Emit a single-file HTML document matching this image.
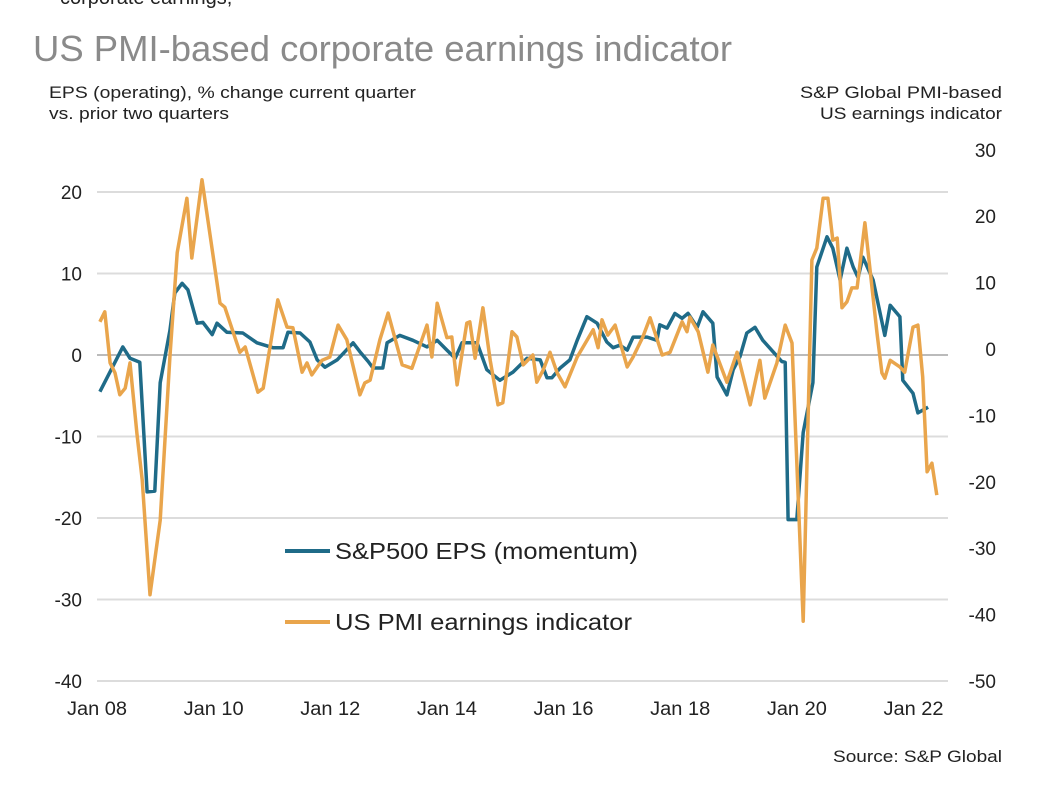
<!DOCTYPE html>
<html><head><meta charset="utf-8"><style>
body{margin:0;background:#fff;width:1042px;height:784px;overflow:hidden;font-family:"Liberation Sans",sans-serif}
svg text{font-family:"Liberation Sans",sans-serif}
</style></head><body>
<svg id="chart" width="1042" height="784" xmlns="http://www.w3.org/2000/svg">
<text x="60" y="4" font-size="20" fill="#222">corporate earnings,</text>
<text x="33" y="61" font-size="36" fill="#8a8a8a" textLength="699" lengthAdjust="spacingAndGlyphs">US PMI-based corporate earnings indicator</text>
<text x="49" y="98" font-size="17" fill="#222" textLength="367" lengthAdjust="spacingAndGlyphs">EPS (operating), % change current quarter</text>
<text x="49" y="119" font-size="17" fill="#222" textLength="180" lengthAdjust="spacingAndGlyphs">vs. prior two quarters</text>
<text x="1002" y="98" font-size="17" fill="#222" text-anchor="end" textLength="202" lengthAdjust="spacingAndGlyphs">S&amp;P Global PMI-based</text>
<text x="1002" y="119" font-size="17" fill="#222" text-anchor="end" textLength="182" lengthAdjust="spacingAndGlyphs">US earnings indicator</text>
<text x="1002" y="762" font-size="17" fill="#222" text-anchor="end" textLength="169" lengthAdjust="spacingAndGlyphs">Source: S&amp;P Global</text>
<g id="grid"></g><g id="axes"></g><g id="lines"></g>
<g>
<line x1="285" y1="551" x2="330" y2="551" stroke="#1f6b88" stroke-width="4"/>
<text x="335" y="559" font-size="23" fill="#222" textLength="303" lengthAdjust="spacingAndGlyphs">S&amp;P500 EPS (momentum)</text>
<line x1="285" y1="622" x2="330" y2="622" stroke="#e9a54c" stroke-width="4"/>
<text x="335" y="630" font-size="23" fill="#222" textLength="297" lengthAdjust="spacingAndGlyphs">US PMI earnings indicator</text>
</g>
</svg>
<script>
// month offsets from Jan 2008
const epsMonths=[0.6,5.3,6.8,8.8,10.3,11.9,13,15,16,17.5,18.7,20.6,21.8,23.7,24.7,26.7,30,32.9,36.2,38.3,39.3,41.8,43.8,45.3,46.9,49.4,51,52.7,54.1,55.8,56.8,58.8,59.7,62.3,65,67.9,70,72,73.7,75.1,78.2,80.2,82.9,85.6,88.5,91.2,92.6,93.6,95.3,97.3,98.8,100.8,102.9,104.9,106.2,107.6,109.1,110.3,113.2,115.2,115.8,117.3,118.9,120.4,121.6,123.5,124.7,126.7,127.6,129.6,130.9,132.3,133.7,135.4,137,139.1,140.9,141.6,142.2,144,145.3,147.3,148.1,150.2,151.4,152.9,154.3,155.6,156.6,157.6,159.7,162.1,163.2,165.2,165.8,167.9,168.9,171];
const epsValues=[-4.5,1,-0.4,-0.9,-16.8,-16.7,-3.4,3,7.6,8.8,8,3.9,4,2.5,3.9,2.8,2.7,1.5,0.9,0.9,2.8,2.7,1.6,-0.6,-1.5,-0.6,0.4,1.5,0.4,-0.8,-1.6,-1.6,1.5,2.4,1.8,1,1.8,0.6,-0.4,1.5,1.5,-1.8,-3.1,-2.1,-0.4,-0.6,-2.8,-2.8,-1.6,-0.6,1.8,4.7,3.9,1.6,0.9,1.2,0.6,2.2,2.2,1.8,3.7,3.3,5.1,4.5,5.1,3.4,5.3,3.9,-2.7,-4.9,-1.8,-0.2,2.7,3.4,1.8,0.4,-0.8,-0.9,-20.2,-20.2,-9.5,-3.4,10.8,14.5,13.1,9.2,13.1,10.8,9.5,12,9.2,2.4,6.1,4.7,-3.1,-4.7,-7.1,-6.4];
const pmiMonths=[0.6,1.6,2.7,3.7,4.7,5.8,6.8,8.2,9.3,10.9,13,15,16.5,18.5,19.5,21.6,25.3,26.3,29.4,30.5,33.1,34.2,37.2,39.1,40.3,42.2,43.2,44.2,46.3,47.9,49.6,51.4,54.1,55.1,56.2,58.2,59.9,62.8,64.8,67.9,68.9,70,72,73,74.1,76.1,76.7,77.8,79.4,80.9,82.5,83.5,85.4,86.4,87.7,89.7,90.5,91.8,93.2,94.7,96.3,98.8,102.1,103.1,103.9,105.1,106.6,109.1,110.3,112.3,113.8,116.3,117.9,120.4,121.4,122,123.7,125.7,126.7,129.6,131.7,134.4,136.4,137.4,139.9,141.6,143,145.3,147.1,148.1,149.4,150.4,151.4,152.3,153.3,154.3,155.3,156.4,158,160.5,161.5,162.1,163.2,165.2,166.2,167.9,168.9,169.9,170.8,171.8,172.8];
const pmiValues=[4.1,5.6,-2.1,-3.6,-6.9,-5.9,-2.1,-12.7,-19.7,-37,-25.8,-1.2,14.5,22.7,13.7,25.5,6.9,6.3,-0.5,0.3,-6.5,-5.9,7.4,3.3,3.2,-3.5,-2.1,-3.9,-1.7,-1.2,3.6,1.4,-6.9,-5.1,-4.7,1.4,5.4,-2.4,-2.9,3.6,-1.2,6.9,1.7,1.8,-5.4,3.9,4.1,-1.4,6.2,-1.7,-8.4,-8.1,2.6,1.8,-2.4,-0.9,-5,-3.2,-0.5,-3.6,-5.7,-1.2,2.9,0.2,4.4,2.1,3.6,-2.7,-1.2,1.8,4.7,-0.9,-0.5,4.1,2.6,4.8,2.6,-3.5,0.6,-5,-0.5,-8.4,-1.7,-7.4,-2.1,3.6,0.9,-41,13.4,15.2,22.7,22.7,16.4,16.7,6.2,7.1,9.2,9.2,19,2.4,-3.6,-4.4,-1.7,-2.7,-3.5,3.3,3.6,-4.2,-18.5,-17.2,-22];
const leftTicks=[20,10,0,-10,-20,-30,-40];
const rightTicks=[30,20,10,0,-10,-20,-30,-40,-50];
const xTickLabels=["Jan 08","Jan 10","Jan 12","Jan 14","Jan 16","Jan 18","Jan 20","Jan 22"];
const xTickMonths=[0,24,48,72,96,120,144,168];

const NS="http://www.w3.org/2000/svg";
const xS=m=>97+m*4.86;
const yL=v=>355-v*8.15;
const yR=v=>349-v*6.64;
function mk(tag,attrs,parent,txt){const e=document.createElementNS(NS,tag);for(const k in attrs)e.setAttribute(k,attrs[k]);if(txt!==undefined)e.textContent=txt;parent.appendChild(e);return e;}
const grid=document.getElementById('grid'),axes=document.getElementById('axes'),lines=document.getElementById('lines');
leftTicks.forEach(v=>{
  const l=mk('line',{x1:97,x2:948,y1:yL(v),y2:yL(v),stroke:v===0?'#777':'#dcdcdc','stroke-width':v===0?1:2},grid);
  
  
  const t=mk('text',{x:82,y:yL(v)+7,'font-size':19,fill:'#222','text-anchor':'end'},axes,String(v));
  
  
});
rightTicks.forEach(v=>{
  const t=mk('text',{x:996,y:yR(v)+7,'font-size':19,fill:'#222','text-anchor':'end'},axes,String(v));
  
  
});
xTickLabels.forEach((s,i)=>{
  const t=mk('text',{x:xS(xTickMonths[i]),y:715,'font-size':19,fill:'#222','text-anchor':'middle',textLength:60,lengthAdjust:'spacingAndGlyphs'},axes,s);
  
  
});
const bp=epsMonths.map((m,i)=>xS(m).toFixed(1)+','+yL(epsValues[i]).toFixed(1)).join(' ');
const pp=pmiMonths.map((m,i)=>xS(m).toFixed(1)+','+yR(pmiValues[i]).toFixed(1)).join(' ');
const pl=mk('polyline',{points:pp,fill:'none',stroke:'#e9a54c','stroke-width':3.5,'stroke-linejoin':'round'},lines);


const bl=mk('polyline',{points:bp,fill:'none',stroke:'#1f6b88','stroke-width':3.5,'stroke-linejoin':'round'},lines);


lines.appendChild(pl);
</script>
</body></html>
